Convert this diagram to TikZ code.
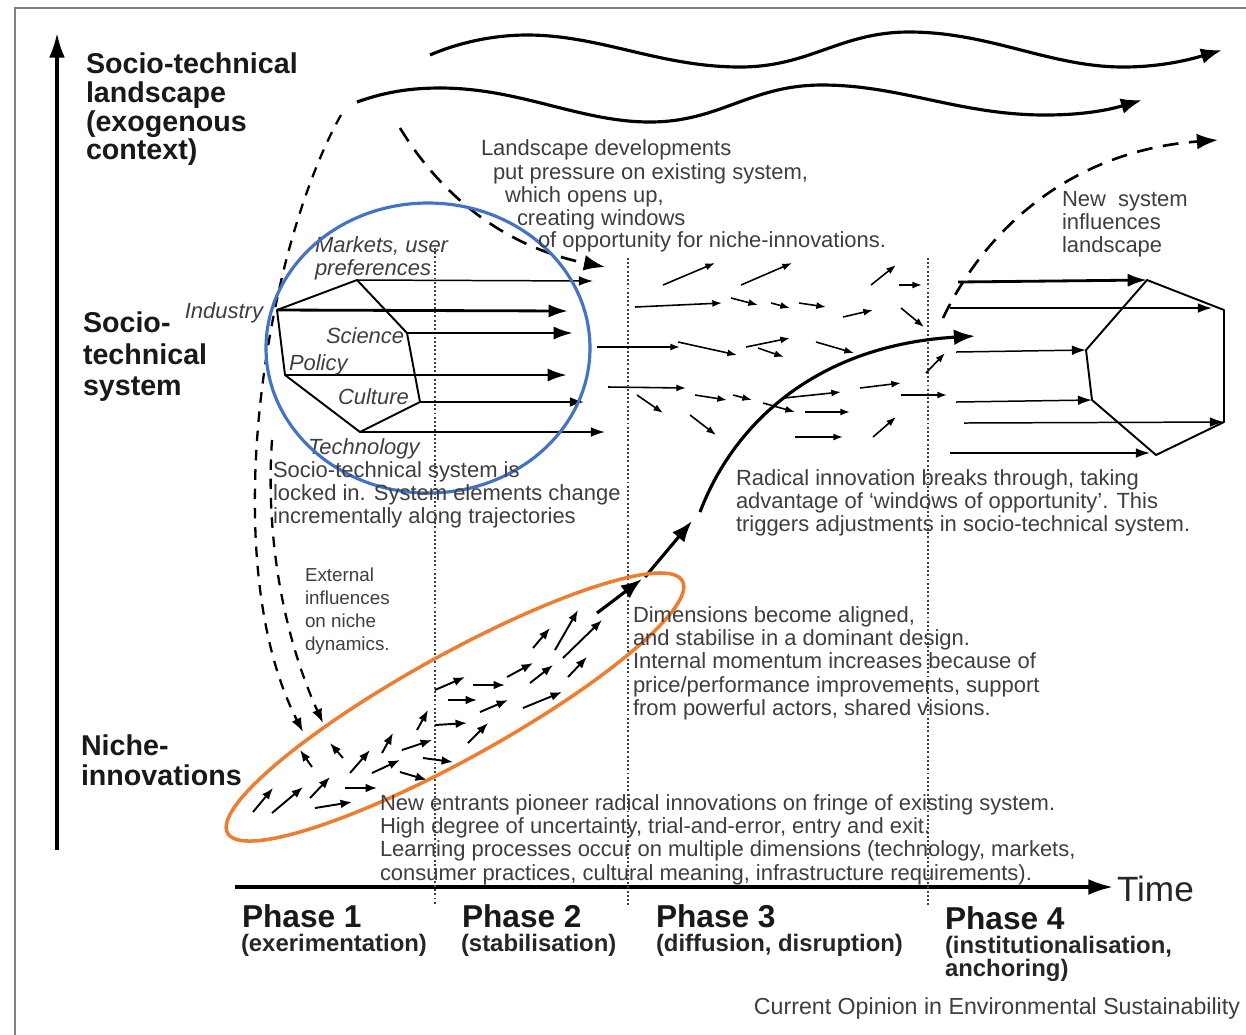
\documentclass[tikz,border=0pt]{standalone}
\usepackage{fontspec}
\setmainfont{Liberation Sans}
\usetikzlibrary{arrows.meta}
\usetikzlibrary{calc}

\definecolor{notegrey}{RGB}{62,62,62}
\definecolor{framegrey}{RGB}{130,130,130}
\definecolor{circblue}{RGB}{68,114,196}
\definecolor{ellorange}{RGB}{237,125,49}

\begin{document}
\begin{tikzpicture}[x=0.2mm, y=-0.2mm,
  every node/.style={inner sep=0pt, outer sep=0pt},
  note/.style={anchor=north west, align=left, text=notegrey, font=\fontsize{12.5}{13.1}\selectfont},
  lbl/.style={anchor=north west, align=left, text=black!90, font=\bfseries\fontsize{16.3}{16.3}\selectfont},
  elem/.style={anchor=north west, align=left, text=notegrey, font=\itshape\fontsize{12.5}{13.1}\selectfont},
  phasetitle/.style={anchor=north west, text=black!90, font=\bfseries\fontsize{18}{20}\selectfont},
  phasesub/.style={anchor=north west, align=left, text=black!85, font=\bfseries\fontsize{13.6}{13.1}\selectfont},
  bigarr/.style={line width=1.8pt, -{Latex[length=12pt,width=9pt]}},
  thickarr/.style={line width=1.6pt, -{Latex[length=11pt,width=7.5pt]}},
  thinarr/.style={line width=0.85pt, -{Latex[length=8pt,width=5.5pt]}},
  tinyarr/.style={line width=0.9pt, -{Latex[length=5.5pt,width=4pt]}},
  nichearr/.style={line width=1.1pt, -{Latex[length=6.5pt,width=5pt]}},
  dashline/.style={line width=1.3pt, dash pattern=on 6pt off 5pt},
  longdash/.style={line width=1.5pt, dash pattern=on 9pt off 6pt},
  phaseline/.style={line width=1.1pt, dash pattern=on 1.1pt off 1.3pt, black!75}
]
\useasboundingbox (0,0) rectangle (1246,1034);
\draw[framegrey, line width=1.2pt] (15,1040) -- (15,8) -- (1250,8);

\draw[line width=1.8pt, -{Latex[length=14pt,width=9pt]}] (57,850) -- (57,33);
\draw[line width=1.8pt, -{Latex[length=14pt,width=9pt]}] (235,887) -- (1113,887);
\node[anchor=west, font=\fontsize{20}{22}\selectfont, text=black!85] (time) at (1117,889) {Time};

\foreach \x/\y in {435/248, 628/258, 928/258}
  \draw[phaseline] (\x,\y) -- (\x,905);

\draw[bigarr] (430,55) .. controls (460,42) and (495,35) .. (527,35)
  .. controls (600,35) and (660,67) .. (740,67)
  .. controls (810,67) and (840,32) .. (909,32)
  .. controls (990,32) and (1050,67) .. (1123,67)
  .. controls (1165,67) and (1195,58) .. (1222,50);
\draw[bigarr] (357,102) .. controls (385,92) and (410,88) .. (440,88)
  .. controls (520,88) and (580,122) .. (650,122)
  .. controls (720,122) and (750,85) .. (822,85)
  .. controls (900,85) and (960,115) .. (1045,115)
  .. controls (1090,115) and (1115,108) .. (1142,100);

\draw[dashline, -{Latex[length=8pt,width=6pt]}] (341,115) .. controls (265,250) and (215,560) .. (303,732);
\draw[dashline, -{Latex[length=8pt,width=6pt]}] (272,440) .. controls (265,540) and (285,640) .. (323,723);
\draw[longdash, -{Latex[length=12pt,width=9pt]}] (400,128) .. controls (450,210) and (520,250) .. (605,267);
\draw[longdash, -{Latex[length=12pt,width=9pt]}] (943,318) .. controls (990,220) and (1080,150) .. (1218,140);

\coordinate (rInd) at (277,310);
\coordinate (rMar) at (357,280);
\coordinate (rSci) at (407,333);
\coordinate (rCul) at (420,402);
\coordinate (rTec) at (360,432);
\coordinate (rPol) at (285,375);
\draw[line width=1.1pt, line join=round] (rInd) -- (rMar) -- (rSci) -- (rCul) -- (rTec) -- (rPol) -- cycle;
\draw[thinarr] (rMar) -- (593,281);
\draw[thickarr] (rInd) -- (568,311);
\draw[thickarr] (rSci) -- (573,333);
\draw[thickarr] (rPol) -- (567,375);
\draw[thinarr] (rCul) -- (584,402);
\draw[thinarr] (rTec) -- (605,432);

\node[elem] (markets) at (315,237) {Markets, user\\preferences};
\node[elem, anchor=north east] (industry) at (263,303) {Industry};
\node[elem] (science) at (326,328) {Science};
\node[elem] (policy) at (289,355) {Policy};
\node[elem] (culture) at (338,389) {Culture};
\node[elem] (technology) at (308,439) {Technology};

\coordinate (nA) at (1147,280);
\coordinate (nB) at (1224,310);
\coordinate (nC) at (1224,422);
\coordinate (nD) at (1156,455);
\coordinate (nE) at (1092,400);
\coordinate (nF) at (1086,350);
\draw[line width=1.1pt, line join=round] (nA) -- (nB) -- (nC) -- (nD) -- (nE) -- (nF) -- cycle;
\draw[thickarr] (958,282) -- (nA);
\draw[thinarr] (950,308) -- (1212,308);
\draw[thinarr] (956,352) -- (nF);
\draw[thinarr] (956,402) -- (nE);
\draw[thinarr] (964,423) -- (nC);
\draw[thinarr] (950,453) -- (1150,453);

\foreach \xa/\ya/\xb/\yb in {663/285/715/263, 741/285/792/263, 871/285/896/265, 899/285/922/285,
  635/307/722/303, 731/298/758/305, 771/303/790/308, 799/303/826/307, 843/317/873/310, 901/308/924/327,
  597/347/680/347, 678/342/737/355, 746/347/790/338, 758/348/784/357, 816/342/854/353, 926/373/945/353,
  608/387/686/388, 637/395/663/413, 695/395/727/400, 733/395/752/400, 763/403/795/412, 784/398/841/392,
  860/388/901/383, 901/395/947/395, 690/415/716/435, 805/412/850/412, 795/437/843/437, 873/437/896/417}
  \draw[tinyarr] (\xa,\ya) -- (\xb,\yb);

\foreach \xa/\ya/\xb/\yb in {253/812/273/788, 272/813/303/787, 310/798/330/777, 315/808/352/802,
  345/788/377/788, 312/767/300/750, 343/758/330/743, 350/773/370/750, 372/773/400/760, 400/772/427/780,
  382/753/393/733, 402/750/432/740, 417/730/428/710, 423/758/453/762, 435/725/467/723, 435/690/465/677,
  448/700/477/700, 473/685/505/685, 480/712/508/700, 468/743/488/723, 507/677/533/663, 530/683/553/665,
  523/708/562/692, 533/648/550/628, 555/650/578/610, 563/658/602/620, 568/677/587/657}
  \draw[nichearr] (\xa,\ya) -- (\xb,\yb);

\draw[bigarr] (597,613) -- (642,579);
\draw[bigarr] (645,577) -- (692,521);
\draw[bigarr] (700,512) .. controls (735,420) and (820,345) .. (975,336);

\draw[circblue, line width=1.8pt] (428,348) ellipse [x radius=162, y radius=145];
\draw[ellorange, line width=2pt, rotate around={29:(455,707)}] (455,707) ellipse [x radius=260, y radius=52];

\node[lbl] (landscape) at (86,53) {Socio-technical\\landscape\\(exogenous\\context)};
\node[lbl, font=\bfseries\fontsize{16.3}{17.9}\selectfont] (regime) at (83,312) {Socio-\\technical\\system};
\node[lbl, font=\bfseries\fontsize{16.3}{17}\selectfont] (niche) at (81,735) {Niche-\\innovations};

\foreach \i/\x/\y/\t in {1/481/140/Landscape developments, 2/493/164/{put pressure on existing system,},
  3/505/187/{which opens up,}, 4/517/210/creating windows, 5/538/232/of opportunity for niche-innovations.}
  \node[note] (pressure\i) at (\x,\y) {\t};

\node[note] (newsys) at (1062,191) {New\ \ system\\influences\\landscape};
\node[note] (lockin) at (273,462) {Socio-technical system is\\locked in. System elements change\\incrementally along trajectories};
\node[note] (radical) at (736,470) {Radical innovation breaks through, taking\\advantage of ‘windows of opportunity’. This\\triggers adjustments in socio-technical system.};
\node[note, font=\fontsize{10.7}{13.1}\selectfont] (external) at (305,568) {External\\influences\\on niche\\dynamics.};
\node[note] (aligned) at (633,607) {Dimensions become aligned,\\and stabilise in a dominant design.\\Internal momentum increases because of\\price/performance improvements, support\\from powerful actors, shared visions.};
\node[note] (entrants) at (380,795) {New entrants pioneer radical innovations on fringe of existing system.\\High degree of uncertainty, trial-and-error, entry and exit.\\Learning processes occur on multiple dimensions (technology, markets,\\consumer practices, cultural meaning, infrastructure requirements).};

\node[phasetitle] (ph1) at (242,905) {Phase 1};
\node[phasesub] (ph1s) at (241,934) {(exerimentation)};
\node[phasetitle] (ph2) at (462,905) {Phase 2};
\node[phasesub] (ph2s) at (461,934) {(stabilisation)};
\node[phasetitle] (ph3) at (656,905) {Phase 3};
\node[phasesub] (ph3s) at (656,934) {(diffusion, disruption)};
\node[phasetitle] (ph4) at (945,907) {Phase 4};
\node[phasesub] (ph4s) at (945,936) {(institutionalisation,\\anchoring)};

\node[anchor=east, text=notegrey, font=\fontsize{13.2}{15}\selectfont] (source) at (1240,1008) {Current Opinion in Environmental Sustainability};
\end{tikzpicture}
\end{document}
